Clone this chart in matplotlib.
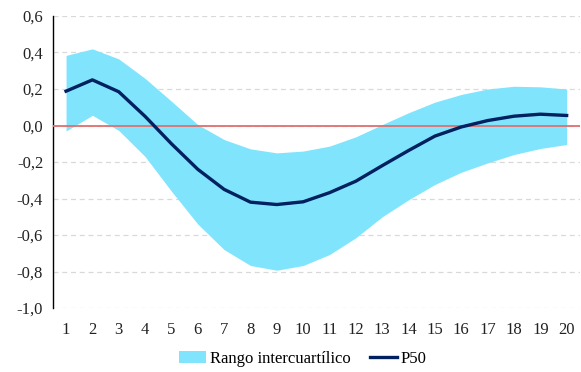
import numpy as np
import matplotlib
matplotlib.use("Agg")
import matplotlib.pyplot as plt
from matplotlib.patches import Patch
from matplotlib.lines import Line2D
from matplotlib.ticker import FuncFormatter

plt.rcParams['font.family'] = ['Liberation Serif', 'DejaVu Serif']

# horizon and percentiles
horizon = list(range(1, 21))
p25 = [-0.03, 0.056, -0.027, -0.17, -0.36, -0.54, -0.68, -0.767, -0.793, -0.767,
       -0.707, -0.615, -0.50, -0.407, -0.323, -0.256, -0.205, -0.159, -0.126, -0.104]
p50 = [0.188, 0.25, 0.185, 0.05, -0.10, -0.24, -0.35, -0.42, -0.433, -0.418,
       -0.368, -0.305, -0.22, -0.137, -0.058, -0.008, 0.027, 0.051, 0.062, 0.055]
p75 = [0.384, 0.42, 0.365, 0.258, 0.133, 0.005, -0.077, -0.128, -0.15, -0.14,
       -0.113, -0.062, 0.005, 0.07, 0.128, 0.17, 0.20, 0.215, 0.212, 0.20]

band_color = '#80E4FD'
line_color = '#002060'

fig = plt.figure(figsize=(5.81, 3.72), dpi=100)
ax = fig.add_axes([0.091, 0.172, 0.907, 0.785])

ax.fill_between(horizon, p25, p75, color=band_color, linewidth=0, zorder=2)
ax.plot(horizon, p50, color=line_color, linewidth=2.4, zorder=4)
ax.axhline(0, color='#E07070', linewidth=1.3, zorder=3)

ax.set_xlim(0.5, 20.5)
ax.set_ylim(-1.0, 0.6)
ax.set_xticks(horizon)
ax.set_yticks(np.arange(-1.0, 0.61, 0.2))
ax.yaxis.set_major_formatter(FuncFormatter(lambda v, _: f"{v:.1f}".replace('.', ',').replace('-0,0', '0,0')))
ax.grid(axis='y', color='#D9D9D9', linestyle=(0, (4, 3)), linewidth=0.9, zorder=1)
ax.set_axisbelow(True)

for s in ['top', 'right', 'bottom']:
    ax.spines[s].set_visible(False)
ax.spines['left'].set_color('black')
ax.spines['left'].set_linewidth(1.0)
ax.tick_params(axis='both', length=0, labelsize=12, colors='#222222')
ax.tick_params(axis='x', pad=10)
ax.tick_params(axis='y', pad=7)

handles = [Patch(facecolor=band_color, edgecolor='none', label='Rango intercuartílico'),
           Line2D([0], [0], color=line_color, linewidth=2.4, label='P50')]
fig.legend(handles=handles, loc='center', bbox_to_anchor=(0.521, 0.035), ncol=2,
           frameon=False, fontsize=12, handlelength=1.65, handletextpad=0.2,
           columnspacing=1.15)

fig.savefig('out.png', dpi=100)
